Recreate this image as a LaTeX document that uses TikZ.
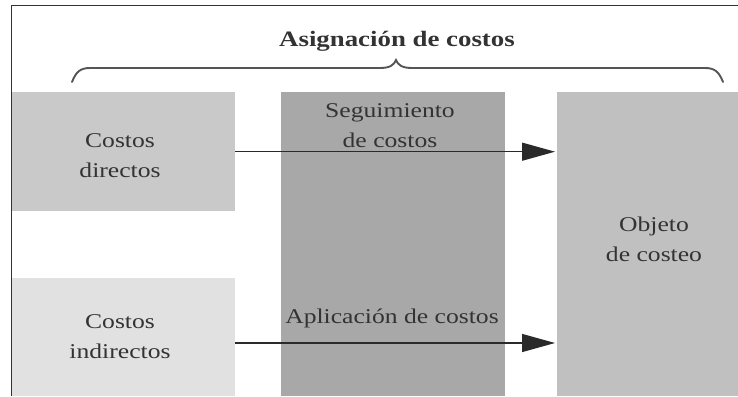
\documentclass[tikz,border=0pt]{standalone}
\usepackage{fontspec}
\setmainfont{Liberation Serif}[FakeStretch=1.22]
\usetikzlibrary{arrows.meta}
\definecolor{txt}{HTML}{333333}
\definecolor{cdir}{HTML}{C9C9C9}
\definecolor{cind}{HTML}{E1E1E1}
\definecolor{cmid}{HTML}{A8A8A8}
\definecolor{cobj}{HTML}{C0C0C1}
\definecolor{framec}{HTML}{333333}
\definecolor{bracec}{HTML}{555555}
\definecolor{arrc}{HTML}{2A2A2A}
\begin{document}
\begin{tikzpicture}[x=1pt,y=-1pt,
  box/.style={draw=none,inner sep=0pt,anchor=north west},
  lbl/.style={text=txt,align=center,anchor=base,inner sep=0pt,
    font=\fontsize{21}{30}\selectfont},
  ttl/.style={text=txt,anchor=base,inner sep=0pt,
    font=\fontsize{22}{26}\selectfont\bfseries},
  arr/.style={draw=arrc,line width=1.3pt,-{Triangle[length=33pt,width=18pt]},shorten >=2pt}]
\useasboundingbox (0,0) rectangle (738,396);
\fill[white] (0,0) rectangle (738,396);
% boxes
\node[box,fill=cdir,minimum width=224pt,minimum height=119pt] (cd) at (11,92) {};
\node[box,fill=cind,minimum width=224pt,minimum height=118pt] (ci) at (11,278) {};
\node[box,fill=cmid,minimum width=224pt,minimum height=304pt] (mid) at (281,92) {};
\node[box,fill=cobj,minimum width=181pt,minimum height=304pt] (obj) at (557,92) {};
% frame
\draw[framec,line width=1.2pt] (11.5,396) -- (11.5,5.5) -- (738,5.5);
% title and brace
\node[ttl] (title) at (397,47) {Asignación de costos};
\draw[bracec,line width=1.9pt,line cap=round]
  (72,82) .. controls (76,72) and (80,68) .. (90,68) -- (380,68)
  .. controls (390,68) and (394,65) .. (396,60)
  .. controls (398,65) and (402,68) .. (412,68) -- (705,68)
  .. controls (715,68) and (719,72) .. (723,82);
% labels (base anchor = baseline of last line)
\node[lbl] (tcd) at (120,177) {Costos\\directos};
\node[lbl] (tci) at (120,358) {Costos\\indirectos};
\node[lbl] (tseg) at (390,147) {Seguimiento\\de costos};
\node[lbl] (tapl) at (392,323) {Aplicación de costos};
\node[lbl] (tobj) at (654,261) {Objeto\\de costeo};
% arrows
\draw[arr] (cd.east) -- (cd.east -| obj.west);
\coordinate (a2s) at (235,343);
\draw[arr] (a2s) -- (a2s -| obj.west);
\end{tikzpicture}
\end{document}
